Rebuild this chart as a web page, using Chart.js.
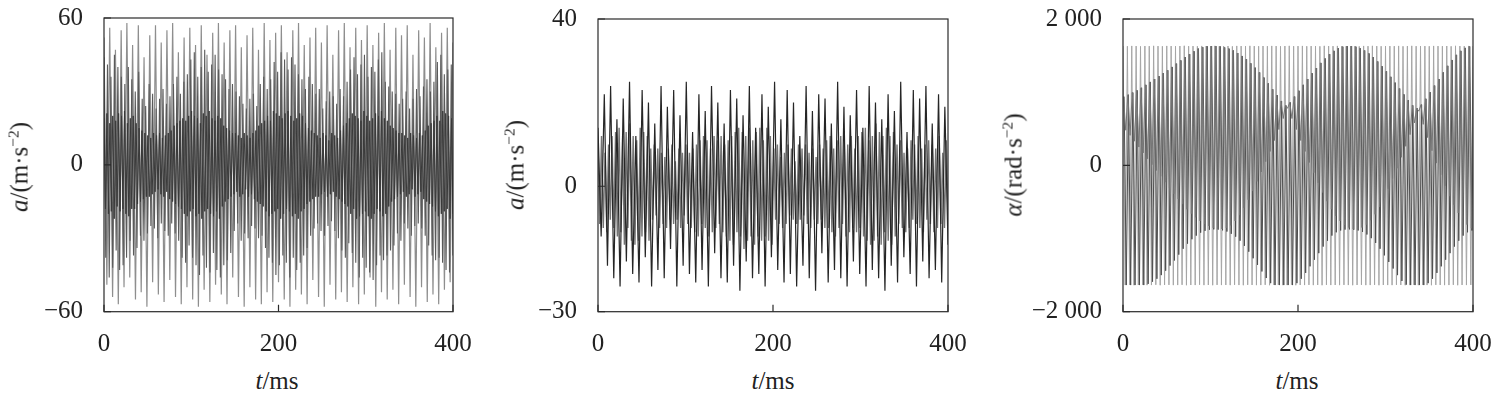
<!DOCTYPE html>
<html>
<head>
<meta charset="utf-8">
<script src="https://cdn.jsdelivr.net/npm/chart.js@4.4.1/dist/chart.umd.min.js"></script>
<style>
  body { margin: 0; background: #fff; width: 1494px; height: 396px; position: relative; overflow: hidden;
         font-family: "Liberation Serif", "Times New Roman", serif; color: #222; }
  canvas { position: absolute; top: 0; }
  .ttl { position: absolute; font-size: 25px; line-height: 1; white-space: nowrap; transform: translate(-50%, -50%); }
  .ttl.v { transform: translate(-50%, -50%) rotate(-90deg); }
  .ttl sup { font-size: 0.62em; vertical-align: 0.55em; line-height: 0; }
</style>
</head>
<body>
<canvas id="c1" width="490" height="360" style="left:0"></canvas>
<canvas id="c2" width="490" height="360" style="left:495px"></canvas>
<canvas id="c3" width="499" height="360" style="left:995px"></canvas>

<div class="ttl v" style="left:19px;top:167px"><i>a</i>/(m·s<sup>−2</sup>)</div>
<div class="ttl" style="left:277px;top:380px"><i>t</i>/ms</div>
<div class="ttl v" style="left:515px;top:165px"><i>a</i>/(m·s<sup>−2</sup>)</div>
<div class="ttl" style="left:773px;top:380px"><i>t</i>/ms</div>
<div class="ttl v" style="left:1013px;top:165px"><i>α</i>/(rad·s<sup>−2</sup>)</div>
<div class="ttl" style="left:1297px;top:380px"><i>t</i>/ms</div>

<script>
// ---- axis ticks ----
const tTicks     = [0, 200, 400];
const accTicks1  = [-60, 0, 60];
const accTicks2  = [-30, 0, 40];
const alphaTicks = [-2000, 0, 2000];

// ---- panel 1: linear acceleration, three visible layers ----
const acc1Tall = [52,-49,56,-54,47,-57,55,-50,58,-46,49,-55,57,-52,44,-58,53,-48,57,-53,50,-56,55,-47,58,-54,46,-57,52,-50,
  56,-55,49,-58,57,-51,45,-56,54,-49,58,-53,50,-57,55,-46,57,-54,48,-58,53,-50,56,-55,47,-57,58,-52,51,-56,
  54,-48,57,-55,46,-58,55,-51,58,-53,49,-57,52,-47,56,-54,50,-58,57,-49,45,-55,55,-52,58,-56,48,-50,56,-57,
  51,-53,57,-46,49,-58,54,-52,58,-55,47,-51,56,-57,53,-49,57,-54,45,-58,55,-50,52,-56,58,-53,48,-57,54,-51,56,-48,50];

const acc1Mid = [44,-38,41,-46,36,-42,45,-35,40,-43,
  36,-41,33,-38,40,-31,35,-37,30,-34,38,-29,
  27,-31,24,-28,33,-25,29,-26,23,-30,27,-24,31,-27,25,-29,28,-24,
  33,-28,36,-31,29,-38,34,-40,37,-33,
  43,-38,46,-41,36,-45,40,-37,47,-42,38,-44,41,-36,45,-43,39,-46,37,-41,
  35,-39,31,-36,33,
  -27,30,-24,28,-31,25,-28,23,-30,27,-25,29,-26,24,-30,
  33,-29,36,-34,31,-38,35,-40,
  42,-45,38,-41,46,-37,43,-40,39,-46,44,-38,41,-43,37,
  -40,35,-37,31,-34,36,-29,33,
  -26,29,-24,31,-27,23,-29,26,-25,30,-23,28,-27,25,-30,
  31,-35,28,-38,34,-32,39,-36,
  44,-40,37,-46,41,-38,45,-42,36,-44,40,-47,38,-41,43,-37,46,
  -39,34,-37,32,-35,30,-33,29,
  -28,25,-31,27,-24,30,-26,23,-29,27,-25,31,-24,28,-26,
  32,-29,35,-33,30,-37,34,-39,
  42,-38,45,-40,37,-43,39,-44,41,-37];

const acc1Core = [19,-18,21,-20,17,-19,20,-22,18,-17,21,-19,20,-18,22,-20,17,-21,19,-18,20,
  -18,17,-16,15,-15,14,-14,13,-13,
  12,-13,11,-12,13,-11,12,-10,13,-12,11,-13,12,-11,13,
  -14,14,-15,16,-16,17,-17,18,-18,
  19,-20,18,-21,20,-19,22,-18,20,-21,19,-20,17,-22,21,-19,20,-18,22,-20,19,-21,18,-19,20,-22,19,
  -17,16,-15,15,-14,14,-13,13,
  -12,13,-11,12,-13,11,-12,13,-10,12,-13,11,-12,13,
  -14,14,-15,16,-16,17,-17,18,
  -19,20,-21,18,-20,22,-19,21,-18,20,-22,19,-20,21,-18,22,-19,20,-21,18,-20,19,-22,21,-19,20,-18,
  17,-16,15,-15,14,-14,13,-13,
  12,-13,11,-12,13,-11,12,-13,10,-12,13,-11,12,-13,11,
  -14,14,-15,16,-16,17,-17,
  19,-20,21,-18,20,-22,19,-21,18,-20,22,-19,20,-21,18,-22,19,-20,21,-18,20,-19,22,-21,19,-20,18,
  -17,16,-15,15,-14,14,-13,13,
  -12,13,-11,12,-13,11,-12,13,-10,12,-13,11,-12,13,-11,12,
  -14,14,-15,16,-16,17,-17,18,
  -19,20,-21,18,-20,22,-19,21,-18,20,-22,19,-20];

// ---- panel 2: second acceleration signal ----
const acc2Peaks = [14,-12,22,-19,24,-22,16,-24,21,-18,25,-21,12,-23,23,-17,20,-24,15,-20,
  24,-22,19,-15,23,-24,17,-19,25,-21,13,-23,22,-20,18,-24,24,-16,20,-22,
  15,-23,23,-19,21,-25,17,-18,24,-22,14,-21,22,-24,19,-17,25,-20,16,-23,
  23,-21,20,-24,12,-19,24,-22,18,-25,22,-16,21,-23,15,-20,25,-22,19,-24,
  17,-18,23,-21,14,-24,24,-20,20,-22,16,-25,22,-19,18,-23,25,-17,13,-21,
  23,-24,21,-18,24,-22,15,-20,22,-23,19,-14];

const acc2Core = [11,-9,12,-10,8,-11,10,-8,12,-10,
  13,-12,14,-11,12,-14,13,-10,15,-13,12,-14,11,-13,14,-12,13,-11,12,-13,
  9,-8,10,-7,9,-10,8,-9,7,-10,9,-8,10,-9,6,-8,9,-10,8,-7,10,-9,8,-10,9,
  -11,10,-12,11,-9,12,-10,11,-12,9,-11,12,-10,11,-9,12,-11,10,-12,11,
  -13,12,-14,13,-11,14,-12,13,-15,12,-13,14,-12,11,-14,13,-12,14,-13,11,-12,14,-13,12,-14,
  9,-8,10,-9,7,-10,8,-9,10,-7,9,-8,6,-9,10,-8,9,-7,10,-9,8,-10,9,-8,7,-9,10,-8,9,-10,
  11,-10,12,-11,9,-12,11,-10,12,-9,11,-12,10,-11,12,-10,9,-11,12,-10,
  13,-12,14,-13,11,-14,12,-13,15,-12,13,-14,12,-11,14,-13,12,-14,13,-12,
  10,-9,11,-10,8,-11,9,-10,11,-8,10,-9,12,-10,9,-11,10,-8,11,-9,10,-11,9,-10,12,-9,8,-10,11,-7];

// ---- panel 3: angular acceleration, sampled every 5 ms ----
const alphaStep = 5;
const alphaHi = [1630,1628,1632,1630,1626,1631,1629,1633,1630,1627,1632,1630,1628,1631,1634,1629,1630,1627,1632,1630,
  1629,1633,1628,1630,1631,1626,1632,1630,1629,1633,1630,1628,1631,1629,1632,1630,1627,1631,1633,1629,
  1630,1632,1628,1630,1631,1627,1633,1630,1629,1632,1630,1628,1631,1630,1626,1632,1629,1633,1630,1628,
  1631,1630,1629,1632,1627,1630,1633,1629,1631,1630,1628,1632,1630,1629,1631,1627,1633,1630,1629,1632,1630];
const alphaLo = [-1636,-1634,-1638,-1635,-1633,-1637,-1636,-1632,-1638,-1635,-1634,-1637,-1636,-1633,-1638,-1635,-1636,-1632,-1637,-1635,
  -1638,-1634,-1636,-1635,-1637,-1633,-1636,-1638,-1634,-1635,-1637,-1636,-1633,-1638,-1635,-1634,-1637,-1636,-1632,-1638,
  -1635,-1636,-1634,-1637,-1635,-1638,-1633,-1636,-1635,-1637,-1634,-1636,-1638,-1635,-1633,-1637,-1636,-1634,-1638,-1635,
  -1636,-1637,-1633,-1635,-1638,-1636,-1634,-1637,-1635,-1636,-1638,-1634,-1635,-1637,-1636,-1633,-1638,-1635,-1636,-1634,-1636];
// upper edge of the dense band
const alphaUp = [940,965,995,1025,1060,1100,1140,1180,1220,1260,1300,1345,1390,1435,1480,1520,1560,1595,1615,1628,
  1630,1630,1625,1612,1595,1570,1535,1495,1450,1395,1335,1270,1200,1120,1040,960,880,820,860,940,
  1020,1100,1180,1260,1330,1400,1460,1520,1565,1600,1622,1630,1630,1622,1600,1570,1530,1480,1420,1355,
  1285,1210,1130,1050,970,890,820,780,830,910,1000,1090,1180,1270,1360,1440,1510,1565,1605,1625,1630];
// lower edge of the solid humps
const alphaMid = [480,410,330,250,170,90,10,-70,-150,-230,-310,-390,-460,-530,-600,-660,-710,-760,-800,-830,
  -855,-870,-870,-855,-820,-760,-680,-580,-470,-350,-220,-90,50,190,340,490,640,780,640,490,
  340,190,40,-100,-240,-370,-490,-600,-690,-760,-815,-850,-870,-870,-850,-810,-750,-670,-570,-450,
  -320,-180,-40,110,260,420,580,740,560,380,200,30,-130,-280,-420,-540,-650,-740,-810,-860,-880];
// lower edge of the striped band
const alphaDown = [-1636,-1636,-1636,-1636,-1636,-1620,-1590,-1550,-1500,-1440,-1370,-1300,-1220,-1140,-1070,-1010,-960,-920,-895,-880,
  -875,-878,-888,-905,-935,-975,-1030,-1100,-1180,-1270,-1360,-1450,-1540,-1610,-1636,-1636,-1636,-1636,-1636,-1610,
  -1550,-1470,-1380,-1290,-1200,-1110,-1030,-960,-915,-890,-878,-875,-880,-890,-910,-945,-995,-1060,-1140,-1230,
  -1320,-1410,-1500,-1580,-1630,-1636,-1636,-1636,-1636,-1610,-1550,-1470,-1380,-1290,-1200,-1110,-1030,-960,-915,-890,-882];

// ---- helpers ----
Chart.defaults.font.family = "'Liberation Serif', 'Times New Roman', serif";
Chart.defaults.color = '#222';

function trace(vals, color, width, tEnd) {
  const step = tEnd / (vals.length - 1);
  return line(vals.map((v, i) => ({ x: i * step, y: v })), color, width);
}

function zigzag(hi, lo, color, width, offset) {
  const pts = [];
  hi.forEach((v, i) => {
    const t = i * alphaStep + offset;
    pts.push({ x: t, y: v });
    pts.push({ x: t + alphaStep / 2, y: lo[i] });
  });
  return line(pts, color, width);
}

function line(data, color, width) {
  return { data, borderColor: color, borderWidth: width, pointRadius: 0, tension: 0,
           borderJoinStyle: 'bevel', fill: false };
}

function fmt(v) {
  const s = Math.abs(v) >= 1000 ? String(Math.abs(v)).replace(/(\d)(\d{3})$/, '$1 $2') : String(Math.abs(v));
  return (v < 0 ? '\u2212' : '') + s;
}

const frame = {
  id: 'frame',
  afterDatasetsDraw(chart) {
    const { ctx, chartArea: a, scales: { x, y } } = chart;
    ctx.save();
    ctx.strokeStyle = '#2a2a2a';
    ctx.lineWidth = 1.2;
    ctx.strokeRect(a.left, a.top, a.right - a.left, a.bottom - a.top);
    ctx.beginPath();
    x.ticks.forEach(t => { const px = x.getPixelForValue(t.value); ctx.moveTo(px, a.bottom); ctx.lineTo(px, a.bottom - 7); });
    y.ticks.forEach(t => { const py = y.getPixelForValue(t.value); ctx.moveTo(a.left, py); ctx.lineTo(a.left + 7, py); });
    ctx.stroke();
    ctx.restore();
  }
};

function panel(id, datasets, yTicks, yWidth, padTop, padRight) {
  new Chart(document.getElementById(id), {
    type: 'line',
    data: { datasets },
    options: {
      responsive: false, animation: false, events: [],
      layout: { padding: { top: padTop, right: padRight, left: 0, bottom: 0 } },
      plugins: { legend: { display: false }, tooltip: { enabled: false } },
      scales: {
        x: {
          type: 'linear', min: 0, max: 400,
          grid: { display: false, drawTicks: false }, border: { display: false },
          afterBuildTicks: s => { s.ticks = tTicks.map(v => ({ value: v })); },
          afterFit: s => { s.height = 360 - 311.7; s.paddingLeft = 0; s.paddingRight = 0; },
          ticks: { font: { size: 25 }, padding: 18, maxRotation: 0, autoSkip: false }
        },
        y: {
          type: 'linear', min: yTicks[0], max: yTicks[yTicks.length - 1],
          grid: { display: false, drawTicks: false }, border: { display: false },
          afterBuildTicks: s => { s.ticks = yTicks.map(v => ({ value: v })); },
          afterFit: s => { s.width = yWidth; s.paddingTop = 0; s.paddingBottom = 0; },
          ticks: { font: { size: 25 }, padding: 21, callback: v => fmt(v) }
        }
      }
    },
    plugins: [frame]
  });
}

panel('c1', [
  trace(acc1Core, '#3a3a3a', 1, 400),
  trace(acc1Mid, '#5a5a5a', 1.1, 400),
  trace(acc1Tall, '#8e8e8e', 1.2, 400)
], accTicks1, 104, 18, 37);

panel('c2', [
  trace(acc2Peaks, '#262626', 1.2, 400),
  trace(acc2Core, '#747474', 1.4, 400)
], accTicks2, 103, 19, 37);

panel('c3', [
  zigzag(alphaUp, alphaMid, '#767676', 1, 0.6),
  zigzag(alphaUp, alphaDown, '#4e4e4e', 1, 1.25),
  zigzag(alphaHi, alphaLo, '#a6a6a6', 1, 0)
], alphaTicks, 128, 19, 21);
</script>
</body>
</html>
